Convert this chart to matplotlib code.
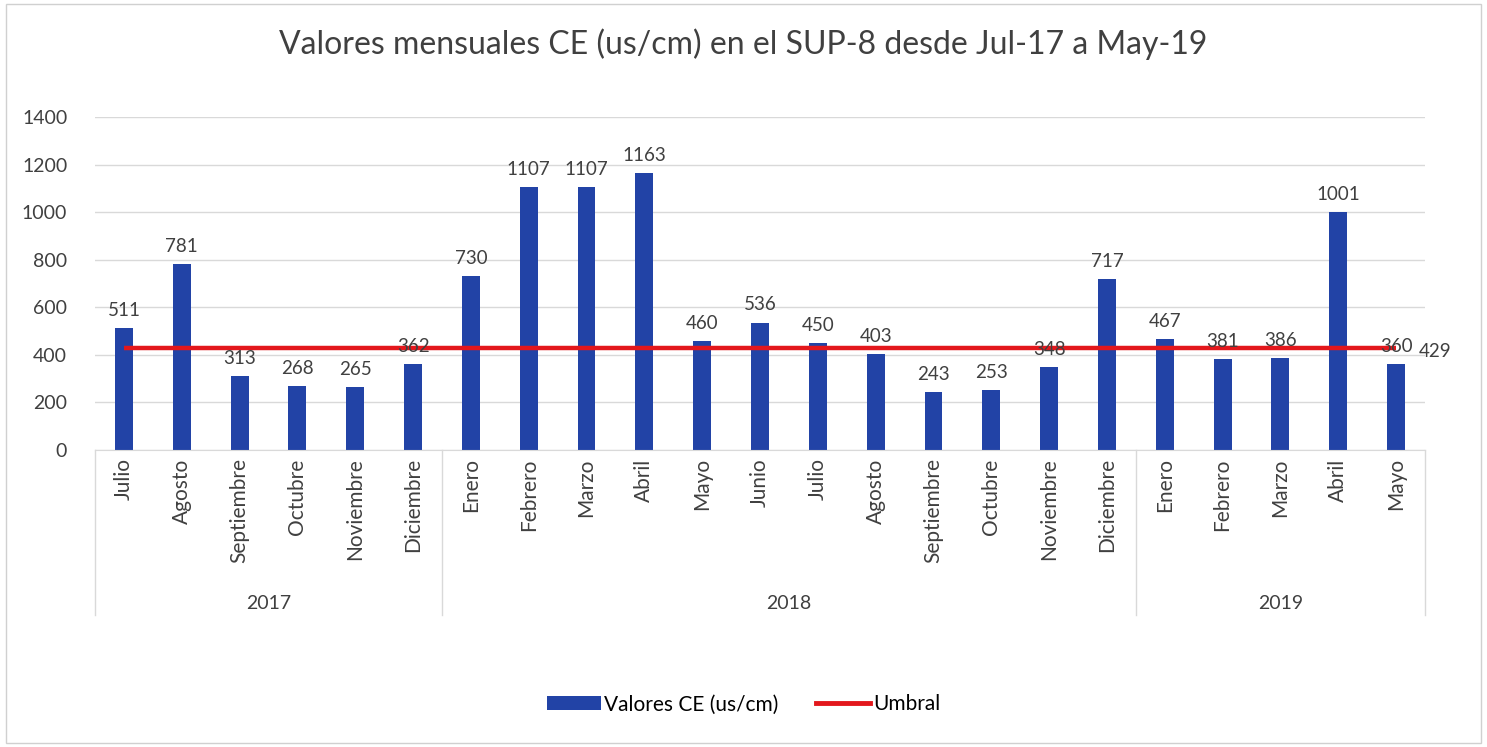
import matplotlib.pyplot as plt
from matplotlib.lines import Line2D
from matplotlib.patches import Patch, Rectangle

plt.rcParams['font.family'] = ['Lato', 'DejaVu Sans']

months = ['Julio', 'Agosto', 'Septiembre', 'Octubre', 'Noviembre', 'Diciembre',
          'Enero', 'Febrero', 'Marzo', 'Abril', 'Mayo', 'Junio', 'Julio', 'Agosto',
          'Septiembre', 'Octubre', 'Noviembre', 'Diciembre',
          'Enero', 'Febrero', 'Marzo', 'Abril', 'Mayo']
years = ['2017', '2018', '2019']
months_per_year = [6, 12, 5]
ce_values = [511, 781, 313, 268, 265, 362,
             730, 1107, 1107, 1163, 460, 536, 450, 403, 243, 253, 348, 717,
             467, 381, 386, 1001, 360]
umbral = 429

bar_color = '#2243a6'
line_color = '#e3171c'
text_color = '#404040'
grid_color = '#d9d9d9'

fig = plt.figure(figsize=(14.87, 7.47), dpi=100)
fig.patches.append(Rectangle((0.004, 0.006), 0.992, 0.988, transform=fig.transFigure,
                             fill=False, edgecolor='#d0d0d0', linewidth=1))
ax = fig.add_axes([95 / 1487, 297 / 747, 1330 / 1487, 333 / 747])

x = list(range(len(ce_values)))
ax.bar(x, ce_values, width=0.31, color=bar_color, zorder=2)
ax.plot(x, [umbral] * len(x), color=line_color, linewidth=3.2, zorder=3,
        solid_capstyle='butt')

for xi, v in zip(x, ce_values):
    ax.text(xi, v + 38, str(v), ha='center', va='bottom', fontsize=13.5, color=text_color, zorder=4)
ax.text(x[-1] + 0.4, umbral - 15, str(umbral), ha='left', va='center', fontsize=13.5,
        color=text_color, clip_on=False)

ax.set_xlim(-0.5, len(x) - 0.5)
ax.set_ylim(0, 1400)
ax.set_yticks(range(0, 1401, 200))
ax.tick_params(axis='y', length=0, labelsize=14, labelcolor=text_color, pad=20)
ax.set_xticks([])
ax.yaxis.grid(True, color=grid_color, linewidth=1, zorder=0)
for side in ['top', 'right', 'left']:
    ax.spines[side].set_visible(False)
ax.spines['bottom'].set_color(grid_color)

# multi-level category axis
trans = ax.get_xaxis_transform()
for xi, m in zip(x, months):
    ax.text(xi, -0.025, m, rotation=90, ha='center', va='top', fontsize=15,
            color=text_color, transform=trans)
start = 0
bounds = [-0.5]
for yr, n in zip(years, months_per_year):
    ax.text(start + (n - 1) / 2, -0.462, yr, ha='center', va='center', fontsize=14,
            color=text_color, transform=trans)
    start += n
    bounds.append(start - 0.5)
for b in bounds:
    ax.add_line(Line2D([b, b], [0, -0.495], transform=trans, color=grid_color,
                       linewidth=1, clip_on=False))

fig.suptitle('Valores mensuales CE (us/cm) en el SUP-8 desde Jul-17 a May-19',
             y=0.962, fontsize=23, color=text_color)

handles = [Patch(facecolor=bar_color, label='Valores CE (us/cm)'),
           Line2D([0], [0], color=line_color, linewidth=3.5, label='Umbral')]
fig.legend(handles=handles, loc='center', bbox_to_anchor=(0.5, 0.057), ncol=2,
           frameon=False, fontsize=15, handlelength=2.6, handleheight=0.6,
           handletextpad=0.15, columnspacing=1.8)

fig.savefig('out.png', dpi=100)
